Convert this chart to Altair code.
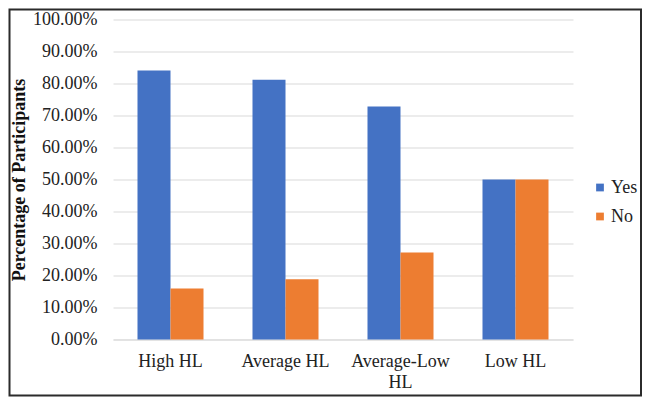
import altair as alt
import pandas as pd

categories = ["High HL", "Average HL", "Average-Low HL", "Low HL"]
yes_values = [0.841, 0.812, 0.728, 0.500]
no_values = [0.159, 0.188, 0.272, 0.500]
series = ["Yes", "No"]
colors = ["#4472C4", "#ED7D31"]

rows = []
for c, y, n in zip(categories, yes_values, no_values):
    rows.append({"category": c, "response": "Yes", "value": y})
    rows.append({"category": c, "response": "No", "value": n})
df = pd.DataFrame(rows)

FONT = "Liberation Serif"

bars = alt.Chart(df).mark_bar().encode(
    x=alt.X("category:N", sort=categories,
            scale=alt.Scale(paddingInner=0.426, paddingOuter=0.213),
            axis=alt.Axis(title=None, labelAngle=0, ticks=False, domain=True,
                          domainColor="#d9d9d9", labelPadding=13,
                          labelFont=FONT, labelFontSize=18, labelColor="#222222",
                          labelLineHeight=21,
                          labelExpr="datum.label == 'Average-Low HL' ? ['Average-Low', 'HL'] : datum.label")),
    xOffset=alt.XOffset("response:N", sort=series),
    y=alt.Y("value:Q", scale=alt.Scale(domain=[0, 1]),
            axis=alt.Axis(title="Percentage of Participants", format=".2%",
                          values=[i / 10 for i in range(11)],
                          ticks=False, domain=False, gridColor="#d9d9d9",
                          labelPadding=16, labelFont=FONT, labelFontSize=18,
                          labelColor="#222222",
                          titleFont=FONT, titleFontSize=18, titleFontWeight="bold",
                          titleColor="#111111", titleX=-94, titleY=160,
                          titleBaseline="middle", titleAngle=270, titleAlign="center")),
    color=alt.Color("response:N", sort=series,
                    scale=alt.Scale(domain=series, range=colors),
                    legend=alt.Legend(title=None, orient="none", legendX=478, legendY=159,
                                      symbolType="square", symbolSize=60,
                                      symbolStrokeWidth=0, rowPadding=11, padding=0,
                                      labelFont=FONT, labelFontSize=18,
                                      labelColor="#222222", labelOffset=2)),
)

frame = alt.Chart(pd.DataFrame({"a": [0]})).mark_rect(
    fillOpacity=0, stroke="#2b2b2b", strokeWidth=2
).encode(
    x=alt.value(-103.5), x2=alt.value(528),
    y=alt.value(-10), y2=alt.value(376),
)

chart = alt.layer(bars, frame).properties(
    width=460, height=320,
    autosize=alt.AutoSizeParams(type="none"),
    padding={"left": 105, "top": 11.5, "right": 69, "bottom": 58.5},
    background="white",
).configure_view(stroke=None)

chart.save("out.html", embed_options={"renderer": "svg", "actions": False})
